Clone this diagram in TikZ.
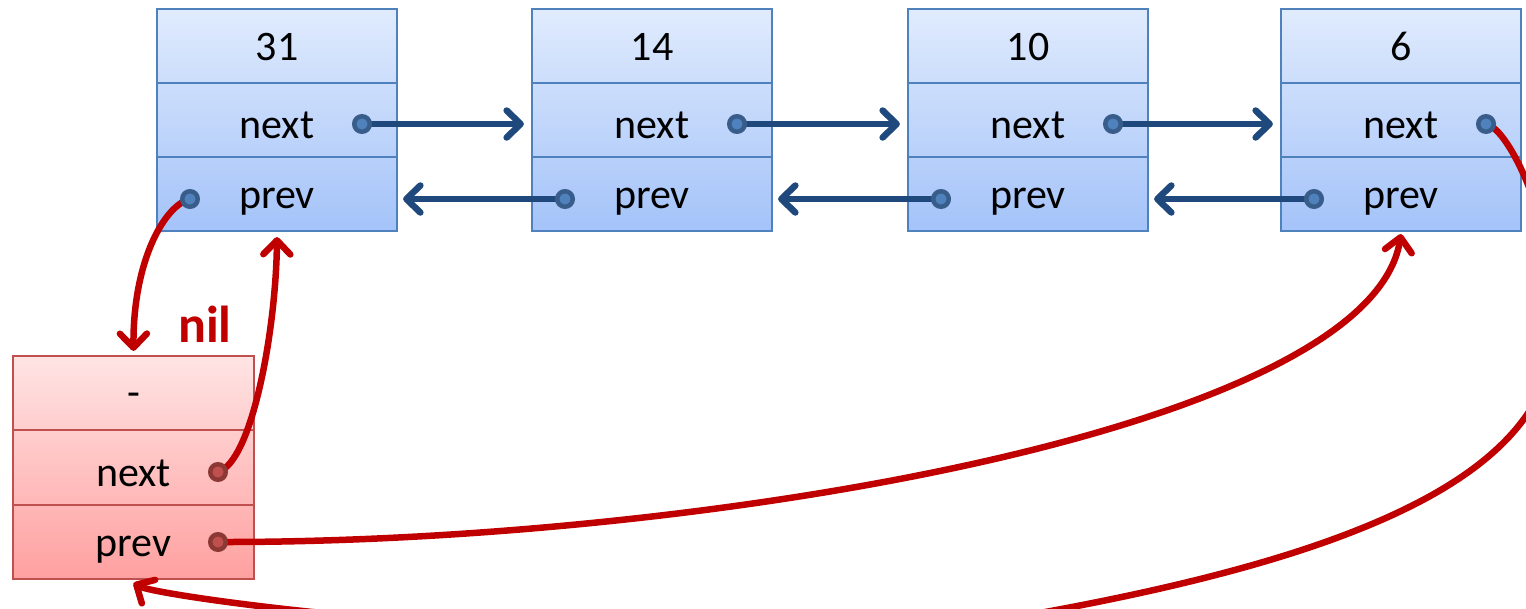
\documentclass[tikz,border=0pt]{standalone}
\usepackage{fontspec}
\setmainfont{Carlito}
\usetikzlibrary{arrows.meta}

\pgfdeclarelayer{dots}
\pgfsetlayers{main,dots}

\definecolor{boxline}{RGB}{79,129,189}
\definecolor{bluetop}{RGB}{224,235,253}
\definecolor{bluebot}{RGB}{164,195,249}
\definecolor{linkblue}{RGB}{31,73,125}
\definecolor{dotblue}{RGB}{79,129,189}
\definecolor{dotblueedge}{RGB}{56,93,138}
\definecolor{nilline}{RGB}{192,80,77}
\definecolor{redtop}{RGB}{255,228,228}
\definecolor{redbot}{RGB}{255,160,160}
\definecolor{linkred}{RGB}{192,0,0}
\definecolor{dotred}{RGB}{192,80,77}
\definecolor{dotrededge}{RGB}{140,56,53}

\tikzset{
  cell/.style={draw=boxline, line width=2.2pt, minimum width=240pt,
    minimum height=222pt, inner sep=0pt, top color=bluetop, bottom color=bluebot},
  nilcell/.style={cell, draw=nilline, top color=redtop, bottom color=redbot},
  divider/.style={draw=boxline, line width=2.2pt},
  nildivider/.style={draw=nilline, line width=2.2pt},
  field/.style={font=\fontsize{42}{50}\selectfont, anchor=base, inner sep=0pt},
  ptr/.style={circle, minimum size=15.5pt, inner sep=0pt, line width=4.5pt,
    fill=dotblue, draw=dotblueedge},
  nilptr/.style={ptr, fill=dotred, draw=dotrededge},
  tip/.style={-{Straight Barb[length=14pt, width=27pt, round]}},
  bluelink/.style={tip, draw=linkblue, line width=6.5pt, line cap=round},
  redlink/.style={tip, draw=linkred, line width=6.5pt, line cap=round},
}

\begin{document}
\begin{tikzpicture}[x=1pt, y=-1pt]
\useasboundingbox (0,0) rectangle (1526,608);
\clip (0,0) rectangle (1526,608);

% list nodes: value, next, prev
\foreach \i/\x/\v in {1/157/31, 2/532/14, 3/908/10, 4/1281/6} {
  \node[cell] (b\i) at (\x+120, 120) {};
  \draw[divider] (b\i.west |- 0,83) -- (b\i.east |- 0,83);
  \draw[divider] (b\i.west |- 0,157) -- (b\i.east |- 0,157);
  \node[field] (v\i) at (\x+120, 60) {\v};
  \node[field] (n\i) at (\x+120, 138) {next};
  \node[field] (p\i) at (\x+120, 208) {prev};
  \begin{pgfonlayer}{dots}
    \node[ptr] (nd\i) at (\x+205, 124) {};
    \node[ptr] (pd\i) at (\x+33, 199) {};
  \end{pgfonlayer}
}

% sentinel node
\node[nilcell, minimum width=241pt, minimum height=223pt] (nil) at (133.5, 467.5) {};
\draw[nildivider] (nil.west |- 0,430) -- (nil.east |- 0,430);
\draw[nildivider] (nil.west |- 0,505) -- (nil.east |- 0,505);
\node[field] (v0) at (133.5, 406) {-};
\node[field] (n0) at (133.5, 486) {next};
\node[field] (p0) at (133.5, 556) {prev};
\begin{pgfonlayer}{dots}
  \node[nilptr] (nd0) at (218, 472) {};
  \node[nilptr] (pd0) at (218, 542) {};
\end{pgfonlayer}

\node[font=\bfseries\fontsize{52}{62}\selectfont, text=linkred, anchor=base, inner sep=0pt]
  (niltext) at (205, 342) {nil};

% forward and backward links
\draw[bluelink, shorten >=7pt] (nd1.center) -- (b2.west |- nd1);
\draw[bluelink, shorten >=7pt] (nd2.center) -- (b3.west |- nd2);
\draw[bluelink, shorten >=7pt] (nd3.center) -- (b4.west |- nd3);
\draw[bluelink, shorten >=5pt] (pd2.center) -- (b1.east |- pd2);
\draw[bluelink, shorten >=5pt] (pd3.center) -- (b2.east |- pd3);
\draw[bluelink, shorten >=5pt] (pd4.center) -- (b3.east |- pd4);

% links through the sentinel
\draw[redlink] (pd1.center) .. controls (165,205) and (133,260) .. ([yshift=4pt]nil.north);
\draw[redlink] (nd0.center) .. controls (252,462) and (276,330) .. ([yshift=-5pt]b1.south);
\draw[redlink] (pd0.center) .. controls (700,543) and (1370,430) .. ([yshift=-2pt]b4.south);
\draw[redlink] (nd4.center) .. controls (1510,128) and (1556,230) .. (1556,320)
  .. controls (1557,460) and (1400,552) .. (1000,620)
  .. controls (600,660) and (158,597) .. ([yshift=-3pt]nil.south);
\end{tikzpicture}
\end{document}
